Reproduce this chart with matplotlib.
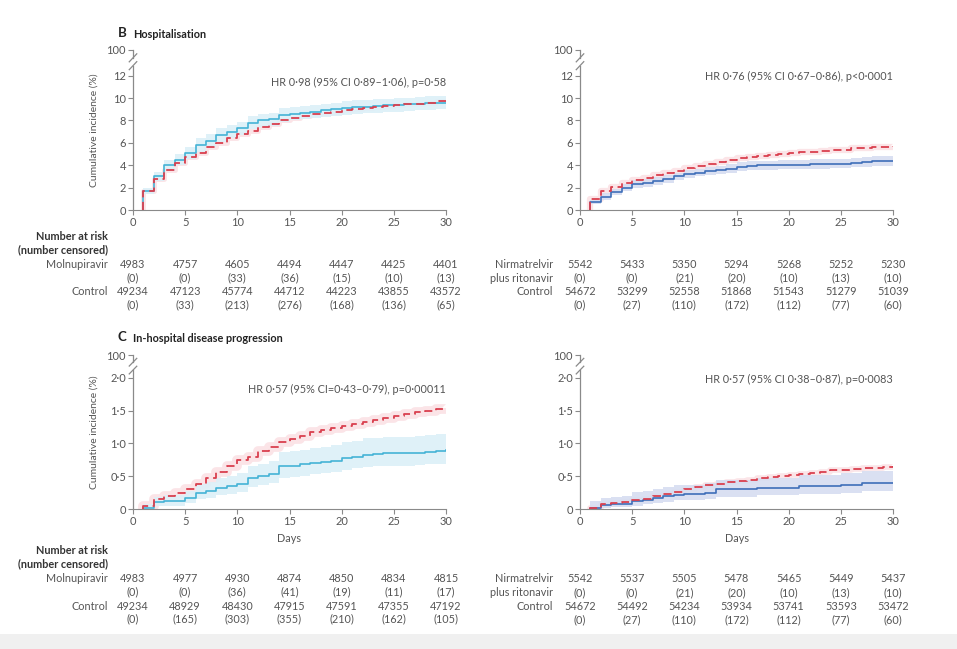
import numpy as np
import matplotlib
matplotlib.use('Agg')
import matplotlib.pyplot as plt
from matplotlib.patches import Rectangle

plt.rcParams['font.family'] = ['Lato', 'DejaVu Sans']

days = list(range(1, 31))

# --- B: hospitalisation, molnupiravir vs control
hosp_mol = [1.7, 3.0, 4.0, 4.5, 5.1, 5.8, 6.2, 6.7, 7.0, 7.3, 7.8, 8.0, 8.1, 8.5, 8.6,
            8.7, 8.8, 8.9, 9.0, 9.1, 9.2, 9.25, 9.3, 9.35, 9.4, 9.45, 9.5, 9.55, 9.6, 9.6]
hosp_mol_lo = [1.4, 2.6, 3.5, 4.0, 4.6, 5.2, 5.6, 6.1, 6.4, 6.7, 7.2, 7.4, 7.5, 7.9, 8.0,
               8.1, 8.2, 8.3, 8.4, 8.5, 8.6, 8.65, 8.7, 8.75, 8.8, 8.85, 8.9, 8.95, 9.0, 9.0]
hosp_mol_hi = [2.0, 3.4, 4.5, 5.0, 5.6, 6.4, 6.8, 7.3, 7.6, 7.9, 8.4, 8.6, 8.7, 9.1, 9.2,
               9.3, 9.4, 9.5, 9.6, 9.7, 9.8, 9.85, 9.9, 9.95, 10.0, 10.05, 10.1, 10.15, 10.2, 10.2]
hosp_ctl_a = [1.7, 2.8, 3.6, 4.2, 4.7, 5.1, 5.6, 6.0, 6.4, 6.8, 7.1, 7.4, 7.7, 8.0, 8.2,
              8.4, 8.6, 8.7, 8.8, 8.9, 9.0, 9.1, 9.2, 9.3, 9.35, 9.45, 9.5, 9.6, 9.7, 9.75]

# --- B: hospitalisation, nirmatrelvir vs control
hosp_nir = [0.7, 1.2, 1.6, 2.0, 2.3, 2.4, 2.6, 2.8, 3.0, 3.2, 3.35, 3.45, 3.55, 3.7, 3.85,
            3.95, 4.0, 4.0, 4.05, 4.05, 4.05, 4.1, 4.1, 4.15, 4.15, 4.2, 4.25, 4.35, 4.35, 4.4]
hosp_nir_lo = [0.5, 0.9, 1.3, 1.7, 1.95, 2.05, 2.25, 2.45, 2.65, 2.85, 3.0, 3.1, 3.2, 3.3, 3.45,
               3.55, 3.6, 3.6, 3.65, 3.65, 3.65, 3.7, 3.7, 3.75, 3.75, 3.8, 3.85, 3.9, 3.9, 3.95]
hosp_nir_hi = [0.9, 1.5, 1.9, 2.3, 2.65, 2.75, 2.95, 3.15, 3.35, 3.55, 3.7, 3.8, 3.9, 4.1, 4.25,
               4.35, 4.4, 4.4, 4.45, 4.45, 4.5, 4.55, 4.55, 4.6, 4.6, 4.65, 4.7, 4.8, 4.8, 4.85]
hosp_ctl_b = [1.0, 1.7, 2.1, 2.4, 2.65, 2.85, 3.1, 3.3, 3.5, 3.75, 3.95, 4.1, 4.3, 4.5, 4.65,
              4.75, 4.85, 4.95, 5.0, 5.1, 5.15, 5.2, 5.3, 5.35, 5.4, 5.5, 5.55, 5.6, 5.65, 5.7]

# --- C: in-hospital progression, molnupiravir vs control
prog_mol = [0.02, 0.1, 0.12, 0.12, 0.17, 0.25, 0.27, 0.32, 0.35, 0.38, 0.47, 0.5, 0.54, 0.65, 0.66,
            0.68, 0.7, 0.72, 0.74, 0.78, 0.8, 0.83, 0.84, 0.85, 0.85, 0.85, 0.86, 0.87, 0.88, 0.9]
prog_mol_lo = [0.0, 0.04, 0.05, 0.05, 0.09, 0.15, 0.17, 0.21, 0.23, 0.26, 0.33, 0.36, 0.39, 0.48, 0.49,
               0.51, 0.53, 0.55, 0.56, 0.6, 0.62, 0.64, 0.65, 0.66, 0.66, 0.66, 0.67, 0.68, 0.69, 0.7]
prog_mol_hi = [0.08, 0.18, 0.21, 0.21, 0.28, 0.38, 0.41, 0.47, 0.51, 0.55, 0.65, 0.69, 0.73, 0.87, 0.88,
               0.9, 0.93, 0.95, 0.97, 1.02, 1.04, 1.08, 1.09, 1.1, 1.1, 1.1, 1.11, 1.13, 1.14, 1.17]
prog_ctl_a = [0.05, 0.15, 0.2, 0.25, 0.3, 0.38, 0.48, 0.56, 0.65, 0.75, 0.8, 0.88, 0.95, 1.02, 1.07,
              1.12, 1.17, 1.2, 1.24, 1.27, 1.3, 1.33, 1.36, 1.39, 1.42, 1.45, 1.48, 1.5, 1.52, 1.54]

# --- C: in-hospital progression, nirmatrelvir vs control
prog_nir = [0.02, 0.06, 0.07, 0.08, 0.12, 0.14, 0.17, 0.2, 0.22, 0.23, 0.23, 0.25, 0.3, 0.3, 0.3,
            0.3, 0.32, 0.32, 0.32, 0.32, 0.35, 0.35, 0.35, 0.35, 0.37, 0.37, 0.39, 0.39, 0.39, 0.39]
prog_nir_lo = [0.0, 0.02, 0.03, 0.03, 0.05, 0.07, 0.09, 0.11, 0.13, 0.14, 0.14, 0.15, 0.19, 0.19, 0.19,
               0.19, 0.21, 0.21, 0.21, 0.21, 0.23, 0.23, 0.23, 0.23, 0.25, 0.25, 0.27, 0.27, 0.27, 0.27]
prog_nir_hi = [0.12, 0.17, 0.18, 0.2, 0.26, 0.28, 0.31, 0.34, 0.36, 0.37, 0.37, 0.39, 0.45, 0.45, 0.45,
               0.45, 0.48, 0.48, 0.48, 0.48, 0.52, 0.52, 0.52, 0.52, 0.55, 0.55, 0.58, 0.58, 0.58, 0.58]
prog_ctl_b = [0.02, 0.07, 0.09, 0.1, 0.13, 0.15, 0.2, 0.23, 0.26, 0.3, 0.33, 0.36, 0.38, 0.41, 0.43,
              0.45, 0.47, 0.49, 0.5, 0.52, 0.53, 0.55, 0.57, 0.59, 0.6, 0.61, 0.62, 0.63, 0.64, 0.65]

# numbers at risk (number censored), at days 0,5,...,30
risk_days = [0, 5, 10, 15, 20, 25, 30]
b_mol_risk = ['4983', '4757', '4605', '4494', '4447', '4425', '4401']
b_mol_cens = ['(0)', '(0)', '(33)', '(36)', '(15)', '(10)', '(13)']
b_ctla_risk = ['49234', '47123', '45774', '44712', '44223', '43855', '43572']
b_ctla_cens = ['(0)', '(33)', '(213)', '(276)', '(168)', '(136)', '(65)']
b_nir_risk = ['5542', '5433', '5350', '5294', '5268', '5252', '5230']
b_nir_cens = ['(0)', '(0)', '(21)', '(20)', '(10)', '(13)', '(10)']
b_ctlb_risk = ['54672', '53299', '52558', '51868', '51543', '51279', '51039']
b_ctlb_cens = ['(0)', '(27)', '(110)', '(172)', '(112)', '(77)', '(60)']

c_mol_risk = ['4983', '4977', '4930', '4874', '4850', '4834', '4815']
c_mol_cens = ['(0)', '(0)', '(36)', '(41)', '(19)', '(11)', '(17)']
c_ctla_risk = ['49234', '48929', '48430', '47915', '47591', '47355', '47192']
c_ctla_cens = ['(0)', '(165)', '(303)', '(355)', '(210)', '(162)', '(105)']
c_nir_risk = ['5542', '5537', '5505', '5478', '5465', '5449', '5437']
c_nir_cens = ['(0)', '(0)', '(21)', '(20)', '(10)', '(13)', '(10)']
c_ctlb_risk = ['54672', '54492', '54234', '53934', '53741', '53593', '53472']
c_ctlb_cens = ['(0)', '(27)', '(110)', '(172)', '(112)', '(77)', '(60)']

TXT = '#555555'
AX = '#8a8a8a'
RED = '#d9404f'
RED_BAND = '#fbe4e7'
LBLUE = '#45b3d6'
LBLUE_BAND = '#dcf0f8'
DBLUE = '#3f6fb9'
DBLUE_BAND = '#d6ddf1'

W, H = 957, 649
fig = plt.figure(figsize=(W / 100, H / 100), dpi=100)
fig.patch.set_facecolor('white')


def px(x, y):
    return x / W, 1 - y / H


def panel(rect, trt, trt_lo, trt_hi, trt_col, trt_band, ctl, band_lw, yticks, ylabels, ytop, brk,
          hr, hr_y, ylabel=False, xlabel=False):
    ax = fig.add_axes(rect)
    # thin band around control, under the treatment band
    ax.plot(np.r_[1, days], np.r_[0, ctl], drawstyle='steps-post', color=RED_BAND,
            lw=band_lw, zorder=0.9, solid_capstyle='butt')
    ax.fill_between(days, trt_lo, trt_hi, step='post', color=trt_band, lw=0, zorder=1, alpha=0.9)
    ax.plot(np.r_[1, days], np.r_[0, trt], drawstyle='steps-post', color=trt_col, lw=1.2, zorder=3)
    ax.plot(np.r_[1, days], np.r_[0, ctl], drawstyle='steps-post', color=RED, lw=1.3,
            dashes=(4.5, 2.5), zorder=4)
    ax.set_xlim(0, 30)
    ax.set_ylim(0, ytop)
    ax.set_xticks(range(0, 31, 5))
    ax.set_yticks(yticks)
    ax.set_yticklabels(ylabels)
    for s in ['top', 'right', 'left']:
        ax.spines[s].set_visible(False)
    ax.spines['bottom'].set_color(AX)
    ax.tick_params(colors=AX, labelcolor=TXT, labelsize=8, length=3.5, width=0.8, pad=1.5)
    # broken y axis
    kw = dict(color=AX, lw=0.9, clip_on=False, transform=ax.get_yaxis_transform())
    ax.plot([0, 0], [0, brk[0]], **kw)
    ax.plot([0, 0], [brk[1], ytop], **kw)
    d = ytop * 0.025
    for yb in brk:
        ax.plot([-0.012, 0.012], [yb - d, yb + d], **kw)
    ax.text(30, hr_y, hr, ha='right', va='center', fontsize=7.8, color=TXT)
    if ylabel:
        ax.set_ylabel('Cumulative incidence (%)', fontsize=7.5, color=TXT, labelpad=6)
    if xlabel:
        ax.set_xlabel('Days', fontsize=7.8, color=TXT, labelpad=4)
    return ax


def risk_table(xs, top, lab1, lab2, r1, c1, r2, c2, label_x, header=True):
    if header:
        fig.text(*px(label_x, top - 27), 'Number at risk', ha='right', va='center',
                 fontsize=7.8, fontweight='bold', color='#333333')
        fig.text(*px(label_x, top - 14), '(number censored)', ha='right', va='center',
                 fontsize=7.8, fontweight='bold', color='#333333')
    fig.text(*px(label_x, top), lab1, ha='right', va='center', fontsize=7.8, color=TXT)
    if lab2:
        fig.text(*px(label_x, top + 14), lab2, ha='right', va='center', fontsize=7.8, color=TXT)
    fig.text(*px(label_x, top + 28), 'Control', ha='right', va='center', fontsize=7.8, color=TXT)
    for x, a, b, c, d in zip(xs, r1, c1, r2, c2):
        fig.text(*px(x, top), a, ha='center', va='center', fontsize=7.8, color=TXT)
        fig.text(*px(x, top + 14), b, ha='center', va='center', fontsize=7.8, color=TXT)
        fig.text(*px(x, top + 28), c, ha='center', va='center', fontsize=7.8, color=TXT)
        fig.text(*px(x, top + 41), d, ha='center', va='center', fontsize=7.8, color=TXT)


lx0, rx0, pw = 133, 580, 313
# top row: y=0 at 210 px, top (100) at 50 px
top_rect_l = [lx0 / W, 1 - 210 / H, pw / W, 160 / H]
top_rect_r = [rx0 / W, 1 - 210 / H, pw / W, 160 / H]
bot_rect_l = [lx0 / W, 1 - 509 / H, pw / W, 154 / H]
bot_rect_r = [rx0 / W, 1 - 509 / H, pw / W, 154 / H]

yt_b = [0, 2, 4, 6, 8, 10, 12, 14.3]
yl_b = ['0', '2', '4', '6', '8', '10', '12', '100']
yt_c = [0, 0.5, 1.0, 1.5, 2.0, 2.35]
yl_c = ['0', '0·5', '1·0', '1·5', '2·0', '100']

panel(top_rect_l, hosp_mol, hosp_mol_lo, hosp_mol_hi, LBLUE, LBLUE_BAND, hosp_ctl_a, 3.5,
      yt_b, yl_b, 14.3, (12.9, 13.6), 'HR 0·98 (95% CI 0·89–1·06), p=0·58', 11.4, ylabel=True)
panel(top_rect_r, hosp_nir, hosp_nir_lo, hosp_nir_hi, DBLUE, DBLUE_BAND, hosp_ctl_b, 4.5,
      yt_b, yl_b, 14.3, (12.9, 13.6), 'HR 0·76 (95% CI 0·67–0·86), p<0·0001', 11.9)
panel(bot_rect_l, prog_mol, prog_mol_lo, prog_mol_hi, LBLUE, LBLUE_BAND, prog_ctl_a, 7,
      yt_c, yl_c, 2.35, (2.12, 2.24), 'HR 0·57 (95% CI=0·43–0·79), p=0·00011', 1.83,
      ylabel=True, xlabel=True)
panel(bot_rect_r, prog_nir, prog_nir_lo, prog_nir_hi, DBLUE, DBLUE_BAND, prog_ctl_b, 4,
      yt_c, yl_c, 2.35, (2.12, 2.24), 'HR 0·57 (95% CI 0·38–0·87), p=0·0083', 1.98, xlabel=True)

# panel titles
fig.text(*px(118, 33), 'B', ha='left', va='center', fontsize=9.5, fontweight='bold', color='#222222')
fig.text(*px(133, 34), 'Hospitalisation', ha='left', va='center', fontsize=7.8,
         fontweight='bold', color='#222222')
fig.text(*px(118, 337), 'C', ha='left', va='center', fontsize=9.5, fontweight='bold', color='#222222')
fig.text(*px(133, 338), 'In-hospital disease progression', ha='left', va='center', fontsize=7.8,
         fontweight='bold', color='#222222')

xs_l = [lx0 + pw * d / 30 for d in risk_days]
xs_r = [rx0 + pw * d / 30 for d in risk_days]

risk_table(xs_l, 264, 'Molnupiravir', None, b_mol_risk, b_mol_cens, b_ctla_risk, b_ctla_cens, 108)
risk_table(xs_r, 264, 'Nirmatrelvir', 'plus ritonavir', b_nir_risk, b_nir_cens, b_ctlb_risk,
           b_ctlb_cens, 553, header=False)
risk_table(xs_l, 578, 'Molnupiravir', None, c_mol_risk, c_mol_cens, c_ctla_risk, c_ctla_cens, 108)
risk_table(xs_r, 579, 'Nirmatrelvir', 'plus ritonavir', c_nir_risk, c_nir_cens, c_ctlb_risk,
           c_ctlb_cens, 553, header=False)

# light grey strip at the bottom of the screenshot
fig.patches.append(Rectangle((0, 0), 1, 15 / H, transform=fig.transFigure,
                             facecolor='#f0f0f0', edgecolor='none', zorder=0))

fig.savefig('out.png', dpi=100)
